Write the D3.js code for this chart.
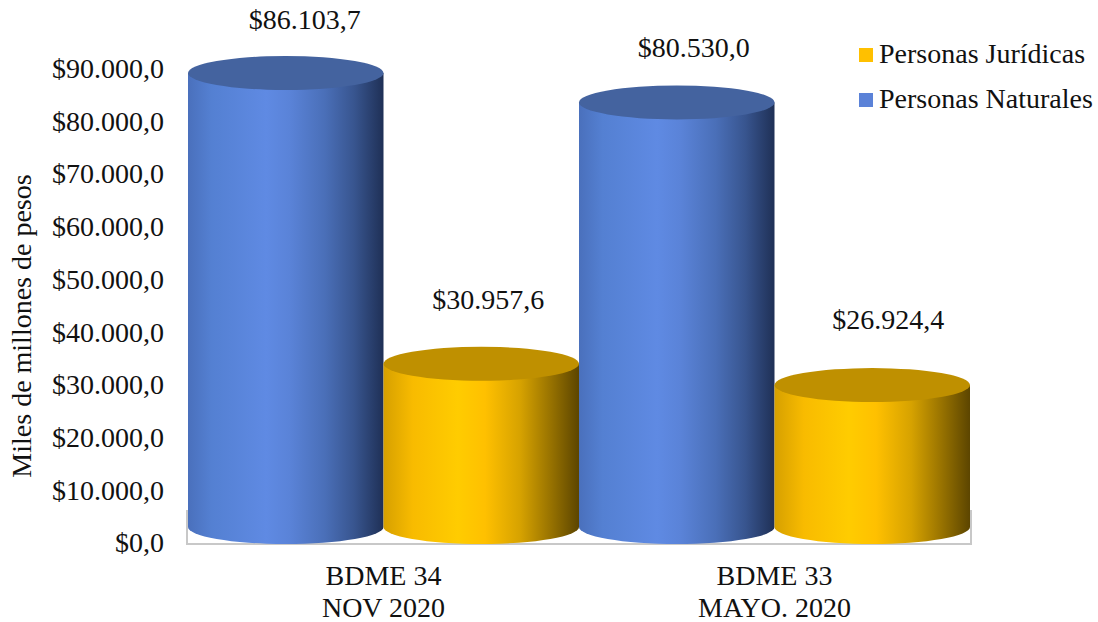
<!DOCTYPE html>
<html>
<head>
<meta charset="utf-8">
<script src="https://cdn.jsdelivr.net/npm/d3@7"></script>
<style>
  html, body { margin: 0; padding: 0; background: #fff; }
  svg { display: block; }
  text { font-family: "Liberation Serif", serif; font-size: 28px; fill: #111; }
</style>
</head>
<body>
<svg id="chart"></svg>
<script>
var categories = ["BDME 34|NOV 2020", "BDME 33|MAYO. 2020"];
var seriesNames = ["Personas Naturales", "Personas Jurídicas"];
var naturales = [86103.7, 80530.0];
var juridicas = [30957.6, 26924.4];
var valueLabels = [["$86.103,7", "$80.530,0"], ["$30.957,6", "$26.924,4"]];
var yTicks = [0, 10000, 20000, 30000, 40000, 50000, 60000, 70000, 80000, 90000];
var legendOrder = ["Personas Jurídicas", "Personas Naturales"];

var svgWidth = 1098, svgHeight = 622;
var ry = 17;  // half height of the cylinder ellipse, also the depth of the floor

var svg = d3.select("#chart").attr("width", svgWidth).attr("height", svgHeight);

var x0 = d3.scaleBand().domain(categories).range([188, 970]);
var x1 = d3.scaleBand().domain(seriesNames).range([0, x0.bandwidth()]);
var y = d3.scaleLinear().domain([0, 90000]).range([527, 52.5]);

var fmt = function(d) {
  return "$" + d3.format(",.1f")(d).replace(/,/g, "#").replace(".", ",").replace(/#/g, ".");
};

// gradients
var defs = svg.append("defs");
function addGradient(id, stops) {
  var g = defs.append("linearGradient").attr("id", id);
  stops.forEach(function(s) {
    g.append("stop").attr("offset", s[0]).attr("stop-color", s[1]);
  });
}
addGradient("blue", [[0, "#4a70bc"], [0.12, "#5480d2"], [0.4, "#5f8ae3"], [0.52, "#5a83d8"],
  [0.7, "#4a6fb8"], [0.85, "#38558f"], [1, "#1f3056"]]);
addGradient("gold", [[0, "#d6a000"], [0.15, "#f8bb00"], [0.38, "#ffcc00"], [0.52, "#ffc000"],
  [0.7, "#d6a200"], [0.85, "#9a7400"], [1, "#5c4500"]]);

// floor of the 3D box
var floor = svg.append("g").attr("fill", "none").attr("stroke", "#c8c8c8");
floor.append("path")
  .attr("stroke-width", 2)
  .attr("d", "M" + (x0.range()[0] - 1) + "," + (y(0) - ry) + "V" + (y(0) + ry) + "H" + (x0.range()[1] + 1) + "V" + (y(0) - ry));

// y axis, the labels sit on the front of the box
var yAxis = svg.append("g")
  .attr("transform", "translate(164," + (ry - 1) + ")")
  .call(d3.axisLeft(y).tickValues(yTicks).tickSize(0).tickPadding(0).tickFormat(fmt));
yAxis.select(".domain").remove();
yAxis.selectAll("text").style("font-size", "28px").style("font-family", '"Liberation Serif", serif').attr("fill", "#111");

svg.append("text")
  .attr("transform", "translate(31,326)rotate(-90)")
  .attr("text-anchor", "middle")
  .text("Miles de millones de pesos");

// cylinders
function drawCylinder(group, xLeft, value, color, top) {
  var w = x1.bandwidth(), rx = w / 2, yTop = y(value), yBase = y(0);
  group.append("path")
    .attr("fill", "url(#" + color + ")")
    .attr("d", "M" + xLeft + "," + yTop + "V" + yBase +
      "A" + rx + "," + ry + " 0 0 0 " + (xLeft + w) + "," + yBase +
      "V" + yTop + "Z");
  group.append("ellipse")
    .attr("cx", xLeft + rx).attr("cy", yTop)
    .attr("rx", rx).attr("ry", ry)
    .attr("fill", top);
}

var seriesData = [naturales, juridicas];
var seriesColor = ["blue", "gold"];
var seriesTop = ["#44639f", "#bf9000"];
var labelNudge = [[[19, -53], [17, -54]], [[7, -64], [16, -65]]];

categories.forEach(function(cat, i) {
  seriesNames.forEach(function(name, s) {
    var value = seriesData[s][i];
    var xLeft = x0(cat) + x1(name);
    drawCylinder(svg.append("g"), xLeft, value, seriesColor[s], seriesTop[s]);
    svg.append("text")
      .attr("x", xLeft + x1.bandwidth() / 2 + labelNudge[s][i][0])
      .attr("y", y(value) + labelNudge[s][i][1])
      .attr("dy", "0.32em")
      .attr("text-anchor", "middle")
      .text(valueLabels[s][i]);
  });
  var parts = cat.split("|");
  parts.forEach(function(p, k) {
    svg.append("text")
      .attr("x", x0(cat) + x0.bandwidth() / 2)
      .attr("y", 585 + k * 32)
      .attr("text-anchor", "middle")
      .text(p);
  });
});

// legend
var legendColor = d3.scaleOrdinal().domain(seriesNames).range(["#5b82d8", "#ffc000"]);
var legend = svg.selectAll(".legend").data(legendOrder).enter().append("g")
  .attr("class", "legend")
  .attr("transform", function(d, i) { return "translate(859," + (48 + i * 45) + ")"; });
legend.append("rect").attr("width", 14).attr("height", 14)
  .attr("fill", function(d) { return legendColor(d); });
legend.append("text").attr("x", 20).attr("y", 15).text(function(d) { return d; });
</script>
</body>
</html>
